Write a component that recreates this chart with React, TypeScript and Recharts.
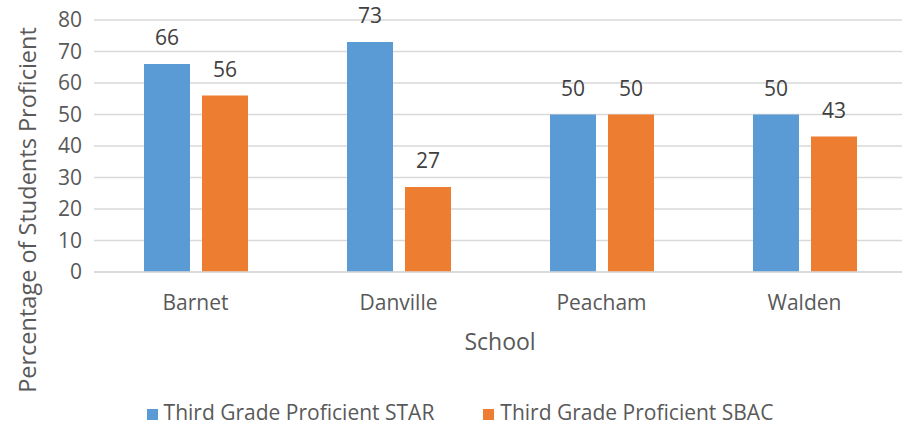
import React from "react";
import {
  Bar,
  BarChart,
  CartesianGrid,
  LabelList,
  Legend,
  XAxis,
  YAxis,
} from "recharts";

const schools = ["Barnet", "Danville", "Peacham", "Walden"];
const starValues = [66, 73, 50, 50];
const sbacValues = [56, 27, 50, 43];
const yTicks = [0, 10, 20, 30, 40, 50, 60, 70, 80];
const seriesNames = ["Third Grade Proficient STAR", "Third Grade Proficient SBAC"];

const data = schools.map((school, i) => ({
  school,
  star: starValues[i],
  sbac: sbacValues[i],
}));

const FONT = "'Open Sans', 'Noto Sans', sans-serif";
const GREY = "#595959";

function YTitle(props: any) {
  const vb = props.viewBox || {};
  const cx = 27;
  const cy = vb.y + vb.height / 2 + 64;
  return (
    <text
      x={cx}
      y={cy}
      transform={`rotate(-90 ${cx} ${cy})`}
      textAnchor="middle"
      dominantBaseline="central"
      fontSize={23.5}
      fontFamily={FONT}
      fill={GREY}
    >
      Percentage of Students Proficient
    </text>
  );
}

export default function App() {
  return (
    <div
      style={{
        position: "absolute",
        left: 0,
        top: 0,
        width: 902,
        height: 426,
        overflow: "hidden",
        background: "#fff",
      }}
    >
      <BarChart
        width={912}
        height={426}
        data={data}
        margin={{ top: 20, right: 6, left: 0, bottom: 0 }}
        barSize={46}
        barGap={12}
        style={{ fontFamily: FONT }}
      >
        <CartesianGrid vertical={false} stroke="#d9d9d9" strokeWidth={1.5} />
        <XAxis
          dataKey="school"
          axisLine={{ stroke: "#d9d9d9", strokeWidth: 1.5 }}
          tickLine={false}
          tickMargin={17}
          height={126}
          tick={{ fontSize: 21, fill: GREY, fontFamily: FONT }}
          label={{
            value: "School",
            position: "insideTop",
            offset: 62,
            fontSize: 23,
            fill: GREY,
            fontFamily: FONT,
          }}
        />
        <YAxis
          width={94}
          domain={[0, 80]}
          ticks={yTicks}
          interval={0}
          axisLine={false}
          tickLine={false}
          tickMargin={6}
          tick={{ fontSize: 21, fill: GREY, fontFamily: FONT }}
          label={<YTitle />}
        />
        <Legend
          verticalAlign="bottom"
          align="center"
          iconType="square"
          iconSize={11}
          itemSorter={(item: any) => seriesNames.indexOf(item.value)}
          wrapperStyle={{ bottom: 0, left: 12, fontSize: 21, color: GREY }}
          formatter={(value) => (
            <span
              style={{
                color: GREY,
                marginLeft: 2,
                marginRight: value === seriesNames[0] ? 39 : 0,
              }}
            >
              {value}
            </span>
          )}
        />
        <Bar
          dataKey="star"
          name={seriesNames[0]}
          fill="#5B9BD5"
          isAnimationActive={false}
        >
          <LabelList
            dataKey="star"
            position="top"
            offset={19}
            fontSize={21}
            fill="#404040"
            fontFamily={FONT}
          />
        </Bar>
        <Bar
          dataKey="sbac"
          name={seriesNames[1]}
          fill="#ED7D31"
          isAnimationActive={false}
        >
          <LabelList
            dataKey="sbac"
            position="top"
            offset={19}
            fontSize={21}
            fill="#404040"
            fontFamily={FONT}
          />
        </Bar>
      </BarChart>
    </div>
  );
}
